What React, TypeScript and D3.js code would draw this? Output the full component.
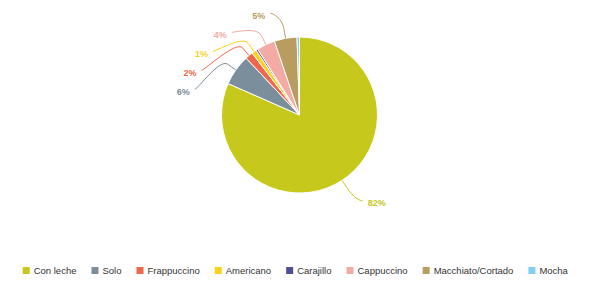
import React, { useMemo } from 'react';
import * as d3 from 'd3';

const categories = ['Con leche', 'Solo', 'Frappuccino', 'Americano', 'Carajillo', 'Cappuccino', 'Macchiato/Cortado', 'Mocha'];
const values = [81.6, 6.4, 1.6, 1.0, 0.4, 3.8, 4.7, 0.5];
const colors = ['#c6c81b', '#7b8e9b', '#f0674d', '#fbd21a', '#4e4f98', '#f3aba4', '#b99d60', '#82d0f0'];

const W = 601;
const H = 287;
const FONT = '"Liberation Sans", Arial, Helvetica, sans-serif';

export default function App() {
  const cx = 299.5;
  const cy = 115;
  const r = 78;
  const R = 105;

  const pie = d3.pie<number>().sort(null).value((d) => d).startAngle(0).endAngle(2 * Math.PI);
  const arcs = pie(values);
  const arcGen = d3.arc<d3.PieArcDatum<number>>().innerRadius(0).outerRadius(r);
  const total = d3.sum(values);

  const labelItems = useMemo(() => {
    const items = arcs
      .map((a, i) => {
        const mid = (a.startAngle + a.endAngle) / 2;
        const pct = (a.value / total) * 100;
        return {
          i,
          mid,
          pct,
          text: Math.round(pct) + '%',
          left: Math.sin(mid) < 0,
          ny: cy - R * Math.cos(mid),
          y: 0,
        };
      })
      .filter((d) => d.pct >= 1);
    const left = items.filter((d) => d.left).sort((a, b) => a.ny - b.ny);
    let prev = -Infinity;
    left.forEach((d) => {
      d.y = Math.max(d.ny, prev + 19, 13.3);
      prev = d.y;
    });
    const right = items.filter((d) => !d.left).sort((a, b) => a.ny - b.ny);
    prev = -Infinity;
    right.forEach((d) => {
      d.y = Math.max(d.ny - 2, prev + 19, 13.3);
      prev = d.y;
    });
    return items;
  }, []);

  const legend = useMemo(() => {
    const canvas = document.createElement('canvas');
    const ctx = canvas.getContext('2d')!;
    ctx.font = `9.5px ${FONT}`;
    const widths = categories.map((c) => ctx.measureText(c).width);
    const sym = 11;
    const gap = 15;
    const totalW = d3.sum(widths) + sym * categories.length + gap * (categories.length - 1);
    let x = 295.3 - totalW / 2;
    return categories.map((c, i) => {
      const item = { c, i, x };
      x += sym + widths[i] + gap;
      return item;
    });
  }, []);

  return (
    <svg
      width={W}
      height={H}
      style={{ position: 'absolute', left: 0, top: 0, background: '#fff' }}
      fontFamily={FONT}
    >
      <rect x={0} y={0} width={W} height={H} fill="#fff" />
      <g transform={`translate(${cx},${cy})`}>
        {arcs.map((a, i) => (
          <path key={i} d={arcGen(a) || ''} fill={colors[i]} stroke="#fff" strokeWidth={1} strokeLinejoin="round" />
        ))}
      </g>
      {labelItems.map((d) => {
        const s = Math.sin(d.mid);
        const c = Math.cos(d.mid);
        const ex = cx + r * s;
        const ey = cy - r * c;
        const bx = cx + (r + 10) * s;
        const by = cy - (r + 10) * c;
        const dy = d.y - cy;
        const xc = cx + (d.left ? -1 : 1) * Math.sqrt(Math.max(0, R * R - dy * dy));
        const sx = xc + (d.left ? -3 : 3);
        const path = `M${sx},${d.y}C${xc},${d.y} ${2 * bx - ex},${2 * by - ey} ${bx},${by}L${ex},${ey}`;
        return (
          <g key={d.i}>
            <path d={path} fill="none" stroke={colors[d.i]} strokeWidth={1} />
            <text
              x={xc + (d.left ? -8 : 8)}
              y={d.y + 2.5}
              textAnchor={d.left ? 'end' : 'start'}
              dominantBaseline="central"
              fontSize={9}
              fontWeight="bold"
              fill={colors[d.i]}
            >
              {d.text}
            </text>
          </g>
        );
      })}
      {legend.map((l) => (
        <g key={l.i}>
          <rect x={l.x} y={267} width={7} height={7} fill={colors[l.i]} />
          <text x={l.x + 11} y={270.7} dominantBaseline="central" fontSize={9.5} fill="#333">
            {l.c}
          </text>
        </g>
      ))}
    </svg>
  );
}
